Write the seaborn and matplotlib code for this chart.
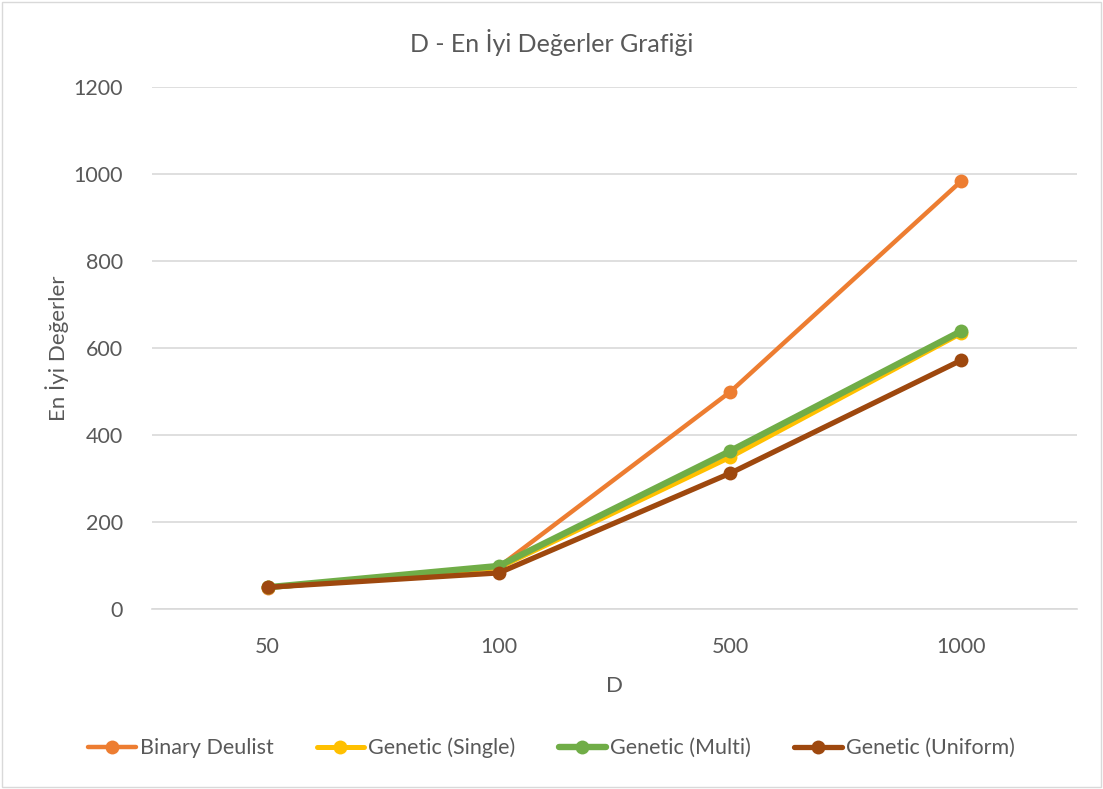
import matplotlib
matplotlib.use("Agg")
import matplotlib.pyplot as plt
import seaborn as sns
import pandas as pd
from matplotlib.patches import Rectangle

categories = ["50", "100", "500", "1000"]
binary_deulist = [48, 97, 499, 984]
genetic_single = [50, 95, 349, 634]
genetic_multi = [50, 99, 363, 639]
genetic_uniform = [50, 83, 312, 572]
series_names = ["Binary Deulist", "Genetic (Single)", "Genetic (Multi)", "Genetic (Uniform)"]
y_ticks = [0, 200, 400, 600, 800, 1000, 1200]

colors = ["#ED7D31", "#FFC000", "#70AD47", "#9E480E"]
widths = [3.2, 3.6, 4.6, 3.8]

rows = []
for name, vals in zip(series_names, [binary_deulist, genetic_single, genetic_multi, genetic_uniform]):
    for c, v in zip(categories, vals):
        rows.append({"D": c, "val": v, "series": name})
df = pd.DataFrame(rows)

sns.set_theme(style="white")
plt.rcParams['font.family'] = ['Lato', 'DejaVu Sans']
txt = "#595959"

fig = plt.figure(figsize=(11.03, 7.89), dpi=100)
ax = fig.add_axes([152/1103, 1-609/789, (1077-152)/1103, (609-87)/789])

for name, col, lw in zip(series_names, colors, widths):
    sub = df[df.series == name]
    sns.lineplot(data=sub, x="D", y="val", ax=ax, color=col, linewidth=lw,
                 marker="o", markersize=10, markeredgewidth=0, label=name, sort=False)

ax.set_xlim(-0.5, 3.5)
ax.set_ylim(0, 1200)
ax.set_yticks(y_ticks)
ax.grid(axis="y", color="#D9D9D9", linewidth=1.2)
ax.set_axisbelow(True)
for s in ["top", "right", "left"]:
    ax.spines[s].set_visible(False)
ax.spines["bottom"].set_color("#D9D9D9")
ax.spines["bottom"].set_linewidth(1.2)
ax.tick_params(axis="both", length=0, labelsize=15.5, colors=txt, pad=21)
ax.tick_params(axis="x", pad=20)
ax.set_xlabel("D", fontsize=16, color=txt, labelpad=14)
ax.set_ylabel("En İyi Değerler", fontsize=16, color=txt, labelpad=3)
fig.text(0.5, 1-42/789, "D - En İyi Değerler Grafiği", ha="center", va="center", fontsize=18, color=txt)

handles, labels = ax.get_legend_handles_labels()
ax.legend(handles, labels, loc="center", bbox_to_anchor=(0.5, 1-748/789), bbox_transform=fig.transFigure,
          ncol=4, frameon=False, fontsize=15.5, labelcolor=txt, handlelength=2.2, handletextpad=0.2,
          columnspacing=2.0)

fig.add_artist(Rectangle((0.002, 0.002), 0.996, 0.996, transform=fig.transFigure,
                         fill=False, edgecolor="#D9D9D9", linewidth=1))
fig.savefig("out.png", dpi=100)
